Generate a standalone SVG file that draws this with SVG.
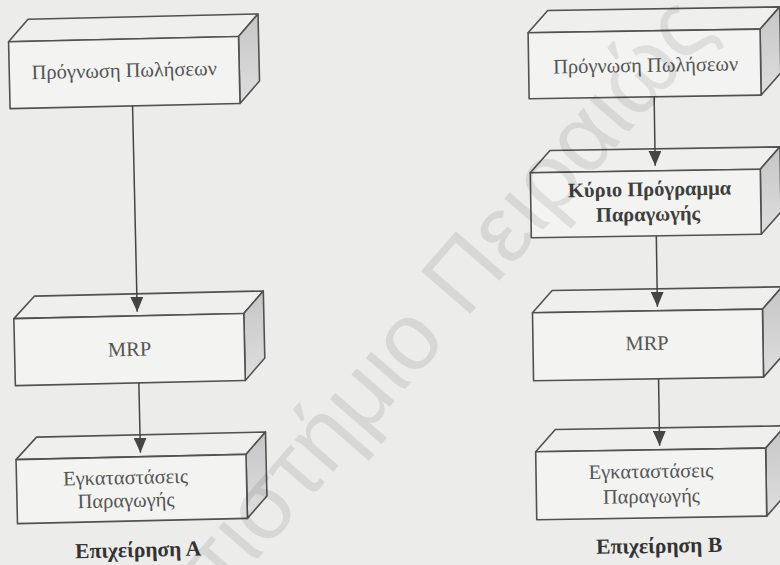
<svg xmlns="http://www.w3.org/2000/svg" width="780" height="565" viewBox="0 0 780 565">
<defs>
<linearGradient id="side" x1="0" y1="0" x2="0" y2="1">
<stop offset="0" stop-color="#c6c6c6"/>
<stop offset="1" stop-color="#dedede"/>
</linearGradient>
<marker id="arr" markerUnits="userSpaceOnUse" markerWidth="15" markerHeight="13" refX="15" refY="6.5" orient="auto">
<path d="M0,0 L15,6.5 L0,13 z" fill="#454545"/>
</marker>
<style>
.front{fill:#f3f3f1;stroke:#515151;stroke-width:1.6;stroke-linejoin:round}
.top{fill:#efefed;stroke:#515151;stroke-width:1.6;stroke-linejoin:round}
.side{fill:url(#side);stroke:#515151;stroke-width:1.6;stroke-linejoin:round}
.t{font-family:"Liberation Serif","DejaVu Serif",serif;font-size:20.5px;fill:#555;text-anchor:middle}
.b{font-family:"Liberation Serif","DejaVu Serif",serif;font-size:20.5px;font-weight:bold;fill:#3e3e3e;text-anchor:middle}
.cap{font-family:"Liberation Serif","DejaVu Serif",serif;font-size:21.5px;font-weight:bold;fill:#333;text-anchor:middle}
.c{fill:none;stroke:#454545;stroke-width:1.5}
.wm{font-family:"Liberation Sans","DejaVu Sans",sans-serif;font-size:95px;fill:#000;fill-opacity:0.085}
</style>
</defs>
<rect width="780" height="565" fill="#ececea"/>

<g id="left" transform="rotate(-1.3 130 280)">
<g id="nodeL1">
<polygon class="top" points="14,39 34,17 264,17 244,39"/>
<polygon class="side" points="244,39 264,17 264,84 244,106"/>
<rect class="front" x="14" y="39" width="230" height="67"/>
<text class="t" x="129" y="77">Πρόγνωση Πωλήσεων</text>
</g>
<g id="nodeL2">
<polygon class="top" points="13,316 34,294 263,294 243,316"/>
<polygon class="side" points="243,316 263,294 263,361 243,383"/>
<rect class="front" x="13" y="316" width="230" height="67"/>
<text class="t" x="128" y="356">MRP</text>
</g>
<g id="nodeL3">
<polygon class="top" points="12,457 33,435 262,435 242,457"/>
<polygon class="side" points="242,457 262,435 262,499 242,521"/>
<rect class="front" x="12" y="457" width="230" height="64"/>
<text class="t" x="121" y="484">Εγκαταστάσεις</text>
<text class="t" x="121" y="507">Παραγωγής</text>
</g>
<text id="captionA" class="cap" x="132" y="557">Επιχείρηση Α</text>
</g>

<g id="right" transform="rotate(-0.9 645 280)">
<g id="nodeR1">
<polygon class="top" points="532,31 552,9 784,9 764,31"/>
<polygon class="side" points="764,31 784,9 784,75 764,97"/>
<rect class="front" x="532" y="31" width="232" height="66"/>
<text class="t" x="649" y="72">Πρόγνωση Πωλήσεων</text>
</g>
<g id="nodeR2">
<polygon class="top" points="532,171 552,149 782,149 762,171"/>
<polygon class="side" points="762,171 782,149 782,214 762,236"/>
<rect class="front" x="532" y="171" width="230" height="65"/>
<text class="b" x="651" y="196">Κύριο Πρόγραμμα</text>
<text class="b" x="649" y="221">Παραγωγής</text>
</g>
<g id="nodeR3">
<polygon class="top" points="532,311 552,289 782,289 762,311"/>
<polygon class="side" points="762,311 782,289 782,357 762,379"/>
<rect class="front" x="532" y="311" width="230" height="68"/>
<text class="t" x="646" y="350">MRP</text>
</g>
<g id="nodeR4">
<polygon class="top" points="533,450 553,428 783,428 763,450"/>
<polygon class="side" points="763,450 783,428 783,496 763,518"/>
<rect class="front" x="533" y="450" width="230" height="68"/>
<text class="t" x="648" y="478">Εγκαταστάσεις</text>
<text class="t" x="648" y="503">Παραγωγής</text>
</g>
<text id="captionB" class="cap" x="655" y="553">Επιχείρηση Β</text>
</g>

<g id="connectors">
<g transform="rotate(-1.3 130 280)">
<path class="c" d="M136.5,106 V312" marker-end="url(#arr)"/>
<path class="c" d="M136.5,383 V453" marker-end="url(#arr)"/>
</g>
<g transform="rotate(-0.9 645 280)">
<path class="c" d="M657,97 V166" marker-end="url(#arr)"/>
<path class="c" d="M657,236 V307" marker-end="url(#arr)"/>
<path class="c" d="M657,379 V446" marker-end="url(#arr)"/>
</g>
</g>

<text id="watermark" class="wm" transform="translate(69,776) rotate(-49)">Πανεπιστήμιο Πειραιώς</text>
</svg>
